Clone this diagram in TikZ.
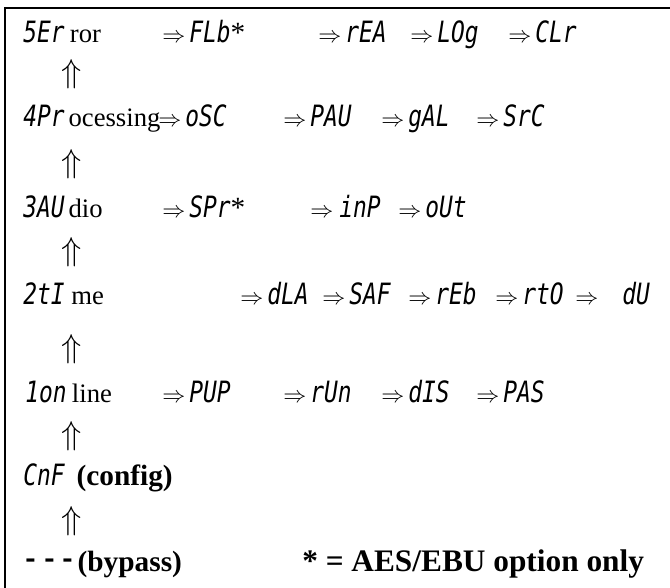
\documentclass[tikz,border=0pt]{standalone}
\usepackage{fontspec}
\setmainfont{Liberation Serif}
\newfontfamily\lcdfont{DejaVu Sans Mono}[FakeStretch=0.78]
\usetikzlibrary{positioning}
% display characters of the front panel
\newcommand{\lcd}[1]{{\lcdfont\itshape\fontsize{22}{24}\selectfont #1}}
\newcommand{\imp}{{\fontsize{17.28}{18}\selectfont$\Rightarrow$}}
\newcommand{\upimp}{{\fontsize{24.88}{26}\selectfont$\Uparrow$}}
\newcommand{\opt}{{\fontsize{22}{22}\selectfont *}}
\tikzset{
  menu/.style={anchor=base west, inner sep=0pt, font=\fontsize{20}{22}\selectfont},
  code/.style={anchor=base west, inner sep=0pt, font=\fontsize{18}{20}\selectfont},
  note/.style={anchor=base west, inner sep=0pt, font=\bfseries\fontsize{22}{24}\selectfont},
  up/.style={inner sep=0pt},
}
\begin{document}
\begin{tikzpicture}[x=0.75pt,y=-0.75pt]
    \useasboundingbox (0,0) rectangle (670,588);
    \clip (0,0) rectangle (670,588);
    % frame, open to the right and below
    \draw[line width=1.6pt] (5,600) -- (5,8) -- (680,8);
    % 5 error
    \node[menu] (err) at (23,43) {\lcd{5Er}\kern4pt ror};
    \node[code] (flb) at (162,43) {\imp\,\lcd{FLb}\opt};
    \node[code] (rea) at (318,43) {\imp\,\lcd{rEA}};
    \node[code] (log) at (410,43) {\imp\,\lcd{LOg}};
    \node[code] (clr) at (508,43) {\imp\,\lcd{CLr}};
    \node[up] (up5) at (72,74) {\upimp};
    % 4 processing
    \node[menu] (proc) at (23,127) {\lcd{4Pr}\kern3pt ocessing};
    \node[code] (osc) at (158,127) {\imp\,\lcd{oSC}};
    \node[code] (pau) at (283,127) {\imp\,\lcd{PAU}};
    \node[code] (gal) at (381,127) {\imp\,\lcd{gAL}};
    \node[code] (src) at (476,127) {\imp\,\lcd{SrC}};
    \node[up] (up4) at (72,164) {\upimp};
    % 3 audio
    \node[menu] (aud) at (23,217) {\lcd{3AU}\kern3pt dio};
    \node[code] (spr) at (162,217) {\imp\,\lcd{SPr}\opt};
    \node[code] (inp) at (310,217) {\imp\ \lcd{inP}};
    \node[code] (out) at (398,217) {\imp\,\lcd{oUt}};
    \node[up] (up3) at (72,252) {\upimp};
    % 2 time
    \node[menu] (tim) at (23,304) {\lcd{2tI} me};
    \node[code] (dla) at (240,304) {\imp\,\lcd{dLA}};
    \node[code] (saf) at (322,304) {\imp\,\lcd{SAF}};
    \node[code] (reb) at (408,304) {\imp\,\lcd{rEb}};
    \node[code] (rto) at (495,304) {\imp\,\lcd{rtO}};
    \node[code] (du)  at (575,304) {\imp\quad\lcd{dU}};
    \node[up] (up2) at (72,349) {\upimp};
    % 1 online
    \node[menu] (onl) at (25,402) {\lcd{1on}\kern4pt line};
    \node[code] (pup) at (162,402) {\imp\,\lcd{PUP}};
    \node[code] (run) at (283,402) {\imp\,\lcd{rUn}};
    \node[code] (dis) at (381,402) {\imp\,\lcd{dIS}};
    \node[code] (pas) at (476,402) {\imp\,\lcd{PAS}};
    \node[up] (up1) at (72,436) {\upimp};
    % config and bypass
    \node[note] (cnf) at (23,485) {\lcd{\mdseries CnF}\hspace{9pt}(config)};
    \node[up] (up0) at (72,521) {\upimp};
    \node[note] (byp) at (21,571) {{\lcdfont\mdseries\fontsize{30}{30}\selectfont ---}(bypass)};
    \node[note, font=\bfseries\fontsize{23.5}{26}\selectfont] (aes) at (302,571) {* = AES/EBU option only};
\end{tikzpicture}
\end{document}
